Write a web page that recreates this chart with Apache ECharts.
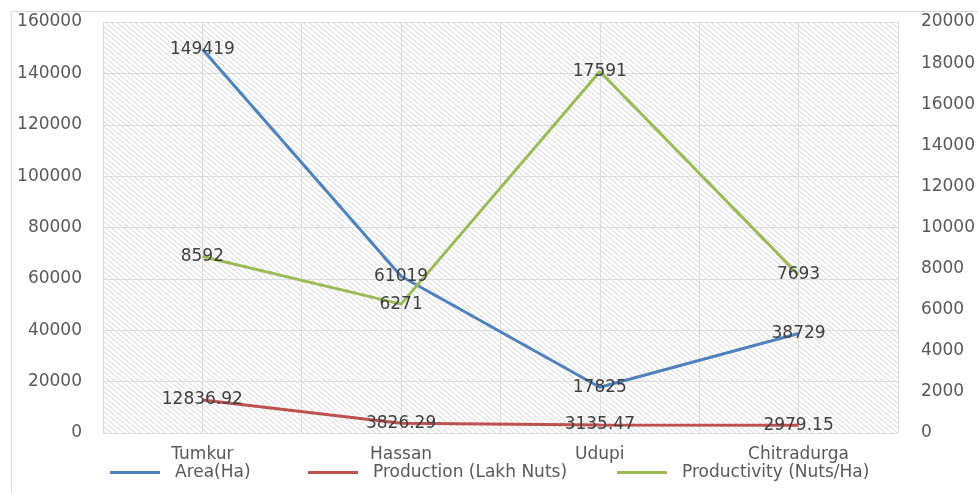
<!DOCTYPE html>
<html>
<head>
<meta charset="utf-8">
<script src="https://cdn.jsdelivr.net/npm/echarts@6/dist/echarts.min.js"></script>
<style>
  html, body { margin: 0; padding: 0; background: #ffffff; }
  #chart { width: 978px; height: 493px; }
</style>
</head>
<body>
<div id="chart"></div>
<script>
// District-wise arecanut statistics
const categories = ['Tumkur', 'Hassan', 'Udupi', 'Chitradurga'];
const area = [149419, 61019, 17825, 38729];              // Area (Ha)
const production = [12836.92, 3826.29, 3135.47, 2979.15]; // Production (Lakh Nuts)
const productivity = [8592, 6271, 17591, 7693];           // Productivity (Nuts/Ha)

const seriesNames = ['Area(Ha)', 'Production (Lakh Nuts)', 'Productivity (Nuts/Ha)'];
const colors = ['#4f81bd', '#c0504d', '#9bbb59'];

// Diagonal hatch tile for the plot background
function hatchPattern() {
  const w = 6, h = 5;
  const c = document.createElement('canvas');
  c.width = w; c.height = h;
  const ctx = c.getContext('2d');
  ctx.fillStyle = '#ffffff';
  ctx.fillRect(0, 0, w, h);
  ctx.strokeStyle = '#cecece';
  ctx.lineWidth = 0.9;
  const offs = [[0, 0], [-w, 0], [w, 0], [0, -h], [0, h]];
  offs.forEach(([dx, dy]) => {
    ctx.beginPath();
    ctx.moveTo(dx, dy);
    ctx.lineTo(dx + w, dy + h);
    ctx.stroke();
  });
  return { image: c, repeat: 'repeat' };
}

const font = 'DejaVu Sans';
const plain = v => String(v);
const labelStyle = {
  show: true,
  position: 'inside',
  color: '#404040',
  fontSize: 17,
  fontFamily: font,
  formatter: p => String(p.value)
};

function lineSeries(i, data, yIndex) {
  return {
    name: seriesNames[i],
    type: 'line',
    xAxisIndex: 0,
    yAxisIndex: yIndex,
    data: data,
    symbol: 'circle',
    symbolSize: 0,
    showSymbol: true,
    lineStyle: { color: colors[i], width: 3 },
    itemStyle: { color: colors[i] },
    label: labelStyle,
    emphasis: { disabled: true },
    z: 3
  };
}

function legendAt(i, left) {
  return {
    data: [seriesNames[i]],
    left: left,
    top: 459,
    icon: 'rect',
    itemWidth: 50,
    itemHeight: 3,
    textStyle: { color: '#595959', fontSize: 17, fontFamily: font, padding: [0, 0, 0, 10] }
  };
}

const axisText = { color: '#595959', fontSize: 17, fontFamily: font, formatter: plain };

const chart = echarts.init(document.getElementById('chart'), null, { renderer: 'canvas' });
chart.setOption({
  animation: false,
  backgroundColor: '#ffffff',
  grid: {
    left: 103, right: 79, top: 22, bottom: 60,
    show: true,
    backgroundColor: hatchPattern(),
    borderWidth: 0
  },
  graphic: [{
    type: 'rect',
    shape: { x: 11.5, y: 11.5, width: 1200, height: 1200 },
    style: { fill: 'none', stroke: '#d9d9d9', lineWidth: 1 },
    silent: true,
    z: -1
  }],
  legend: [legendAt(0, 105), legendAt(1, 303), legendAt(2, 612)],
  xAxis: [{
    type: 'category',
    data: categories,
    boundaryGap: true,
    axisLine: { show: false },
    axisTick: { show: false },
    axisLabel: { color: '#595959', fontSize: 17, fontFamily: font, margin: 13 },
    splitLine: { show: false }
  }, {
    // half-category vertical grid lines
    type: 'value',
    min: 0, max: 8, interval: 1,
    position: 'bottom',
    axisLine: { show: false },
    axisTick: { show: false },
    axisLabel: { show: false },
    splitLine: { show: true, lineStyle: { color: '#dcdcdc', width: 1 } }
  }],
  yAxis: [{
    type: 'value',
    min: 0, max: 160000, interval: 20000,
    axisLine: { show: false },
    axisTick: { show: false },
    axisLabel: Object.assign({ margin: 21 }, axisText),
    splitLine: { show: true, lineStyle: { color: '#dcdcdc', width: 1 } }
  }, {
    type: 'value',
    min: 0, max: 20000, interval: 2000,
    position: 'right',
    axisLine: { show: false },
    axisTick: { show: false },
    axisLabel: Object.assign({ margin: 23 }, axisText),
    splitLine: { show: false }
  }],
  series: [
    lineSeries(0, area, 0),
    lineSeries(1, production, 0),
    lineSeries(2, productivity, 1)
  ]
});
</script>
</body>
</html>
